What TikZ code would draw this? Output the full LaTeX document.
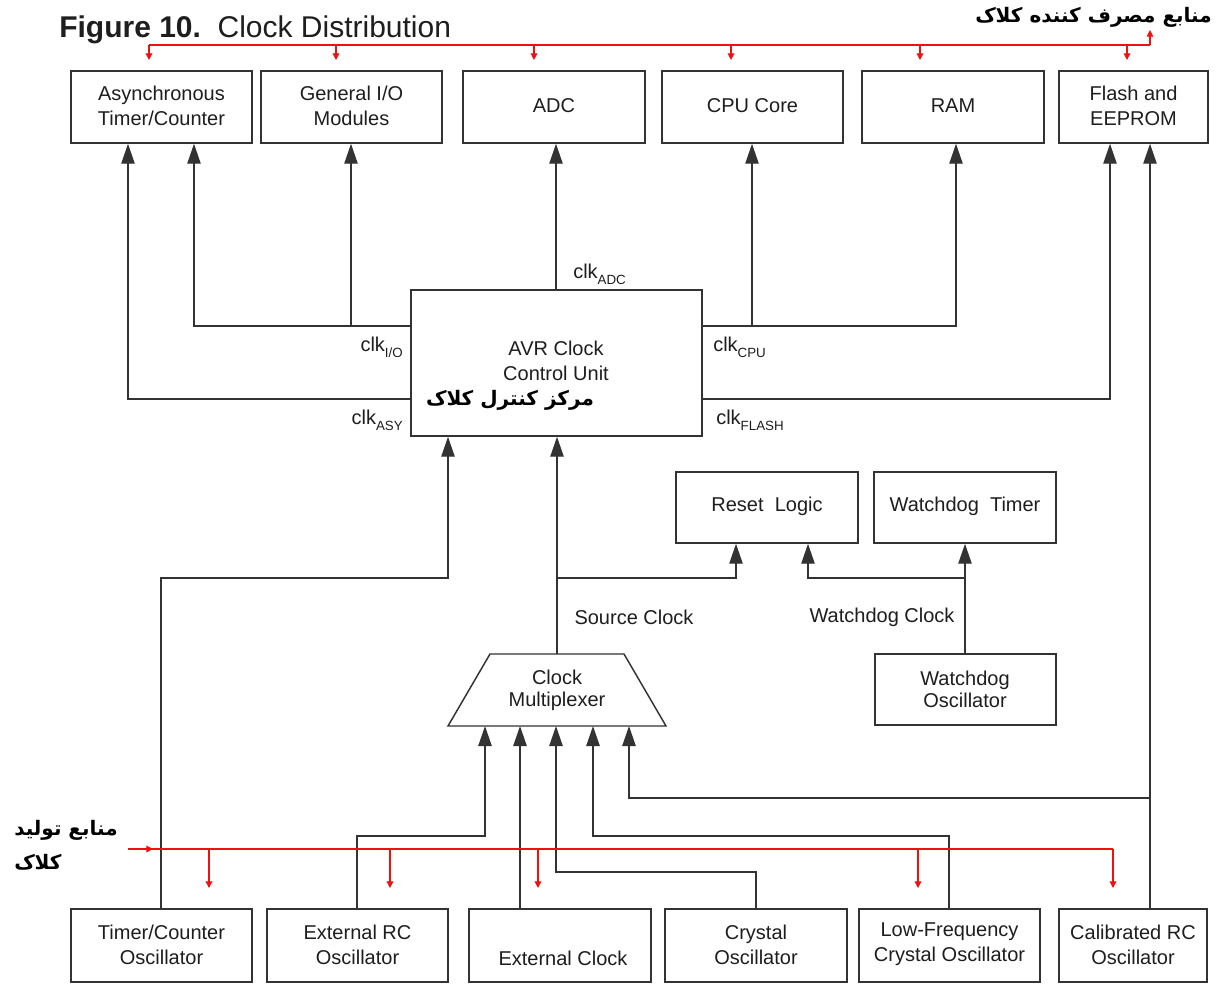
\documentclass[tikz,border=0pt]{standalone}
\usepackage{fontspec}
\setmainfont{Liberation Sans}
\newfontfamily\fa[Script=Arabic]{DejaVu Sans}
\TeXXeTstate=1
\usetikzlibrary{arrows.meta,fit}
\definecolor{ln}{HTML}{333333}
\definecolor{tx}{HTML}{1E1E1E}
\definecolor{rd}{HTML}{F01010}
\begin{document}
\begin{tikzpicture}[x=0.75pt,y=-0.75pt,
  lbl/.style={text=tx, inner sep=0pt, font=\fontsize{15}{18.75}\selectfont, align=center},
  box/.style={draw=ln, line width=1.1pt, inner sep=0pt,
    label={[lbl, yshift=0.8pt]center:{#1}}},
  box/.default={},
  falbl/.style={text=black, inner sep=0pt, font=\fa\bfseries\fontsize{15}{22}\selectfont},
  conn/.style={draw=ln, line width=1.1pt},
  arr/.style={conn, -{Triangle[width=10pt,length=15pt]}},
  rline/.style={draw=rd, line width=0.9pt},
  rarr/.style={rline, -{Triangle[width=5pt,length=5pt]}}
]
\useasboundingbox[fill=white] (0,0) rectangle (1217,983);
% title
\node[anchor=west, text=tx, inner sep=0pt, font=\fontsize{22.5}{26}\selectfont] (title) at (59,30) {\textbf{Figure 10.}\ \ Clock Distribution};
% top boxes
\node[box={Asynchronous\\Timer/Counter}, fit={(71,71)(252,143)}] (async) {};
\node[box={General I/O\\Modules}, fit={(261,71)(442,143)}] (gio) {};
\node[box={ADC}, fit={(463,71)(645,143)}] (adc) {};
\node[box={CPU Core}, fit={(662,71)(843,143)}] (cpu) {};
\node[box={RAM}, fit={(862,71)(1044,143)}] (ram) {};
\node[box={Flash and\\EEPROM}, fit={(1059,71)(1208,143)}] (flash) {};
% control unit
\node[box, fit={(411,290)(702,436)}] (cu) {};
\node[lbl] (cutxt) at (556,361) {AVR Clock\\Control Unit};
\node[falbl] (cufa) at (510,400) {\beginR مرکز کنترل کلاک\endR};
% reset / watchdog
\node[box={Reset\ \ Logic}, fit={(676,472)(858,543)}] (reset) {};
\node[box={Watchdog\ \ Timer}, fit={(874,472)(1056,543)}] (wdt) {};
\node[box, fit={(875,654)(1056,725)}] (wdo) {};
\node[lbl, font=\fontsize{15}{16.5}\selectfont] (wdotxt) at (965,689) {Watchdog\\Oscillator};
% multiplexer
\draw[conn] (490,654) -- (624,654) -- (666,726) -- (448,726) -- cycle;
\coordinate (muxtop) at (557,654);
\coordinate (muxbot) at (557,726);
\node[lbl, font=\fontsize{15}{16.5}\selectfont] (mux) at (557,690) {Clock\\Multiplexer};
% bottom boxes
\node[box={Timer/Counter\\Oscillator}, fit={(71,909)(252,982)}] (tco) {};
\node[box, fit={(469,909)(651,982)}] (ext) {};
\node[lbl] (exttxt) at (563,958) {External Clock};
\node[box={External RC\\Oscillator}, fit={(267,909)(448,982)}] (erc) {};
\node[box={Crystal\\Oscillator}, fit={(665,909)(847,982)}] (cry) {};
\node[box={Low-Frequency\\Crystal Oscillator}, fit={(859,909)(1040,982)}] (lfc) {};
\node[box={Calibrated RC\\Oscillator}, fit={(1059,909)(1207,982)}] (cal) {};
% clk labels
\node[lbl, anchor=base west] (ladc) at (573,278) {clk\raisebox{-5pt}{\fontsize{10}{12}\selectfont ADC}};
\node[lbl, anchor=base east] (lio) at (403,351) {clk\raisebox{-5pt}{\fontsize{10}{12}\selectfont I/O}};
\node[lbl, anchor=base east] (lasy) at (403,424) {clk\raisebox{-5pt}{\fontsize{10}{12}\selectfont ASY}};
\node[lbl, anchor=base west] (lcpu) at (713,351) {clk\raisebox{-5pt}{\fontsize{10}{12}\selectfont CPU}};
\node[lbl, anchor=base west] (lflash) at (716,424) {clk\raisebox{-5pt}{\fontsize{10}{12}\selectfont FLASH}};
\node[lbl] (lsrc) at (634,617) {Source Clock};
\node[lbl] (lwd) at (882,617) {Watchdog Clock};
% persian labels
\node[falbl, anchor=east] (fatop) at (1212,17) {\beginR منابع مصرف کننده کلاک\endR};
\node[falbl, anchor=west] (fagen1) at (14,830) {\beginR منابع تولید\endR};
\node[falbl, anchor=west] (fagen2) at (14,862) {\beginR کلاک\endR};
% connectors from control unit
\draw[arr] (cu.north -| 556,0) -- (adc.south -| 556,0);
\draw[arr] (cu.west |- 0,326) -| (async.south -| 194,0);
\draw[arr] (351,326) -- (gio.south -| 351,0);
\draw[arr] (cu.west |- 0,399) -| (async.south -| 128,0);
\draw[arr] (cu.east |- 0,326) -| (ram.south -| 956,0);
\draw[arr] (752,326) -- (cpu.south -| 752,0);
\draw[arr] (cu.east |- 0,399) -| (flash.south -| 1110,0);
% calibrated RC
\draw[arr] (cal.north -| 1150,0) -- (flash.south -| 1150,0);
\draw[arr] (1150,798) -| (muxbot -| 629,0);
% into control unit
\draw[arr] (tco.north -| 161,0) |- (448,578) -- (cu.south -| 448,0);
\draw[arr] (muxtop) -- (cu.south -| muxtop);
\draw[arr] (556,578) -| (reset.south -| 736,0);
\draw[arr] (wdo.north -| 965,0) -- (wdt.south -| 965,0);
\draw[arr] (965,578) -| (reset.south -| 808,0);
% into multiplexer
\draw[arr] (erc.north -| 357,0) |- (485,836) -- (muxbot -| 485,0);
\draw[arr] (ext.north -| 520,0) -- (muxbot -| 520,0);
\draw[arr] (cry.north -| 756,0) |- (556,872) -- (muxbot -| 556,0);
\draw[arr] (lfc.north -| 949,0) |- (593,836) -- (muxbot -| 593,0);
% red consumer line
\draw[rline] (149,45) -- (1150,45);
\draw[rarr] (1150,45) -- (1150,30);
\foreach \x in {149,336,534,731,920,1127} \draw[rarr] (\x,45) -- (\x,60);
% red generator line
\draw[rline] (128,849) -- (1113,849);
\draw[rarr] (128,849) -- (153,849);
\foreach \x in {209,390,538,918,1113} \draw[rarr] (\x,849) -- (\x,888);
\end{tikzpicture}
\end{document}
